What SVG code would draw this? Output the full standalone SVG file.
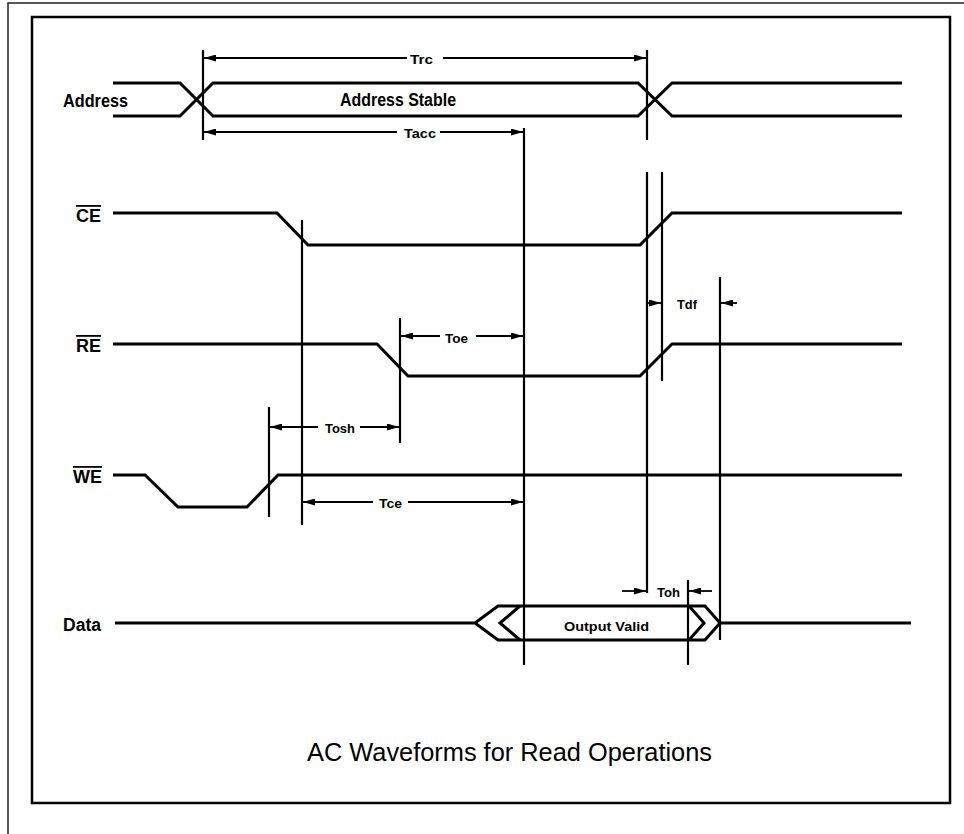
<svg xmlns="http://www.w3.org/2000/svg" width="964" height="834" viewBox="0 0 964 834">
<style>
.wave{fill:none;stroke:#000;stroke-width:3;stroke-linejoin:miter;stroke-linecap:butt}
.guide{fill:none;stroke:#000;stroke-width:2.2}
.dim{fill:none;stroke:#000;stroke-width:1.8}
.sig{font-family:"Liberation Sans",Arial,sans-serif;font-size:18px;font-weight:bold;fill:#000}
.bar{text-decoration:overline}
.lbl{font-family:"Liberation Sans",Arial,sans-serif;font-size:13.5px;font-weight:bold;fill:#000}
.title{font-family:"Liberation Sans",Arial,sans-serif;font-size:25px;fill:#000}
</style>
<defs>
<marker id="ah" viewBox="0 0 12 7" refX="12" refY="3.5" markerWidth="12" markerHeight="7" markerUnits="userSpaceOnUse" orient="auto-start-reverse">
<path d="M0,0 L12,3.5 L0,7 z" fill="#000"/>
</marker>
</defs>
<rect width="964" height="834" fill="#fff"/>
<path d="M8,834 V3 H964" fill="none" stroke="#222" stroke-width="1.5"/>
<rect x="32" y="17" width="918" height="786" fill="none" stroke="#000" stroke-width="2.5"/>

<g id="address">
<text class="sig" x="63" y="107" textLength="65" lengthAdjust="spacingAndGlyphs">Address</text>
<path class="wave" d="M113,83 H180 L213,116 H638 L672,83 H902"/>
<path class="wave" d="M113,116 H180 L213,83 H638 L672,116 H902"/>
<text class="sig" x="340" y="106" textLength="116" lengthAdjust="spacingAndGlyphs">Address Stable</text>
</g>

<g id="ce">
<text class="sig bar" x="76" y="222" textLength="25" lengthAdjust="spacingAndGlyphs">CE</text>
<path class="wave" d="M113,213 H277 L308,245 H640 L672,213 H902"/>
</g>

<g id="re">
<text class="sig bar" x="76" y="352" textLength="25" lengthAdjust="spacingAndGlyphs">RE</text>
<path class="wave" d="M113,344 H377 L408,376 H640 L672,344 H902"/>
</g>

<g id="we">
<text class="sig bar" x="73" y="483" textLength="29" lengthAdjust="spacingAndGlyphs">WE</text>
<path class="wave" d="M113,475 H145 L178,507 H247 L278,475 H902"/>
</g>

<g id="data">
<text class="sig" x="63" y="631" textLength="38" lengthAdjust="spacingAndGlyphs">Data</text>
<path class="wave" d="M115,623 H475 L498,606 H705 L720,623 L705,640 H498 L475,623"/>
<path class="wave" d="M720,623 H911"/>
<path class="wave" d="M520,606 L500,623 L520,640"/>
<path class="wave" d="M689,606 L704,623 L689,640"/>
<text class="lbl" x="564" y="631" font-size="14.5" textLength="85" lengthAdjust="spacingAndGlyphs">Output Valid</text>
</g>

<g id="connectors">
<g id="guides">
<path class="guide" d="M203,50 V140"/>
<path class="guide" d="M647,50 V140"/>
<path class="guide" d="M647,172 V593"/>
<path class="guide" d="M662,172 V381"/>
<path class="guide" d="M720,277 V640"/>
<path class="guide" d="M688,580 V665"/>
<path class="guide" d="M524,128 V665"/>
<path class="guide" d="M302,220 V525"/>
<path class="guide" d="M400,318 V443"/>
<path class="guide" d="M269,407 V517"/>
</g>
<g id="trc">
<path class="dim" d="M407,58 H204" marker-end="url(#ah)"/>
<path class="dim" d="M443,58 H646" marker-end="url(#ah)"/>
<text class="lbl" x="410" y="64" textLength="23" lengthAdjust="spacingAndGlyphs">Trc</text>
</g>
<g id="tacc">
<path class="dim" d="M397,132 H204" marker-end="url(#ah)"/>
<path class="dim" d="M440,132 H523" marker-end="url(#ah)"/>
<text class="lbl" x="404" y="138" textLength="32" lengthAdjust="spacingAndGlyphs">Tacc</text>
</g>
<g id="toe">
<path class="dim" d="M440,336 H401" marker-end="url(#ah)"/>
<path class="dim" d="M476,336 H523" marker-end="url(#ah)"/>
<text class="lbl" x="445" y="343" textLength="23" lengthAdjust="spacingAndGlyphs">Toe</text>
</g>
<g id="tosh">
<path class="dim" d="M318,427 H270" marker-end="url(#ah)"/>
<path class="dim" d="M360,427 H399" marker-end="url(#ah)"/>
<text class="lbl" x="325" y="433" textLength="30" lengthAdjust="spacingAndGlyphs">Tosh</text>
</g>
<g id="tce">
<path class="dim" d="M373,502 H303" marker-end="url(#ah)"/>
<path class="dim" d="M408,502 H523" marker-end="url(#ah)"/>
<text class="lbl" x="379" y="508" textLength="23" lengthAdjust="spacingAndGlyphs">Tce</text>
</g>
<g id="tdf">
<path class="dim" d="M648,303 H661" marker-end="url(#ah)"/>
<path class="dim" d="M737,303 H721" marker-end="url(#ah)"/>
<text class="lbl" x="677" y="309" textLength="20" lengthAdjust="spacingAndGlyphs">Tdf</text>
</g>
<g id="toh">
<path class="dim" d="M622,591 H646" marker-end="url(#ah)"/>
<path class="dim" d="M712,591 H689" marker-end="url(#ah)"/>
<text class="lbl" x="657" y="597" textLength="23" lengthAdjust="spacingAndGlyphs">Toh</text>
</g>
</g>

<text class="title" x="307" y="761" textLength="405" lengthAdjust="spacingAndGlyphs">AC Waveforms for Read Operations</text>
</svg>
